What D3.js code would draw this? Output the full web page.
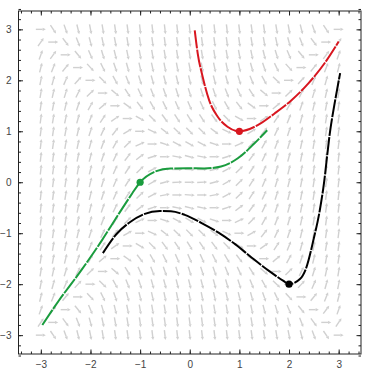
<!DOCTYPE html>
<html>
<head>
<meta charset="utf-8">
<script src="https://cdn.jsdelivr.net/npm/d3@7"></script>
<style>
  body { margin: 0; background: #fff; }
  svg { display: block; }
</style>
</head>
<body>
<svg></svg>
<script>
// Slope field dy/dx = x^2 - y^2 sampled on a grid
const slope = (x, y) => x * x - y * y;
const gridX = d3.range(-3, 3.001, 0.25);
const gridY = d3.range(-3, 3.001, 0.25);

// Solution curves
const redCurve = [[0.1, 2.98], [0.16, 2.53], [0.26, 2.07], [0.39, 1.61], [0.56, 1.29], [0.76, 1.09], [1, 1],
  [1.37, 1.12], [1.71, 1.35], [2.05, 1.61], [2.39, 1.94], [2.72, 2.34], [3.0, 2.76]];
const greenCurve = [[-2.97, -2.8], [-2.65, -2.34], [-2.18, -1.72], [-1.77, -1.14], [-1.43, -0.62], [-1.16, -0.22], [-1, 0],
  [-0.72, 0.2], [-0.39, 0.27], [-0.05, 0.275], [0.29, 0.27], [0.63, 0.31], [0.97, 0.47], [1.3, 0.76], [1.56, 1.02]];
const blackCurve = [[-1.75, -1.39], [-1.47, -1.01], [-1.2, -0.78], [-0.93, -0.63], [-0.6, -0.565], [-0.38, -0.57],
  [-0.1, -0.64], [0.24, -0.8], [0.58, -0.99], [0.92, -1.22], [1.25, -1.48], [1.61, -1.75], [1.88, -1.93], [2, -2],
  [2.22, -1.9], [2.35, -1.67], [2.49, -1.14], [2.62, -0.55], [2.69, -0.12], [2.83, 1.02], [2.93, 1.61], [3.03, 2.14]];

const curveColors = ['#d8161f', '#1a9c3e', '#000000'];
const initialPoints = [[1, 1], [-1, 0], [2, -2]];
const majorTicks = [-3, -2, -1, 0, 1, 2, 3];
const minorTicks = d3.range(-3.4, 3.401, 0.2);

const width = 369;
const height = 376;
const frame = { left: 18.5, right: 361, top: 11, bottom: 354 };

const svg = d3.select('svg').attr('width', width).attr('height', height);

const x = d3.scaleLinear().domain([-3.45, 3.45]).range([frame.left, frame.right]);
const y = d3.scaleLinear().domain([-3.37, 3.36]).range([frame.bottom, frame.top]);

// vector field arrows
const arrowLen = 10;
const head = 3.2;
const field = svg.append('g').attr('fill', '#d0d0d0').attr('stroke', '#d0d0d0').attr('stroke-width', 1.4);
gridX.forEach((gx) => {
  gridY.forEach((gy) => {
    const cx = x(gx), cy = y(gy);
    let dx = x(gx + 1) - x(gx);
    let dy = y(gy + slope(gx, gy)) - y(gy);
    const n = Math.hypot(dx, dy);
    dx /= n; dy /= n;
    const x0 = cx - dx * arrowLen / 2, y0 = cy - dy * arrowLen / 2;
    const x1 = cx + dx * arrowLen / 2, y1 = cy + dy * arrowLen / 2;
    const bx = x1 - dx * head, by = y1 - dy * head;
    field.append('line')
      .attr('x1', x0).attr('y1', y0).attr('x2', bx).attr('y2', by);
    field.append('path')
      .attr('stroke', 'none')
      .attr('d', `M${x1},${y1}L${bx - dy * head * 0.5},${by + dx * head * 0.5}L${bx + dy * head * 0.5},${by - dx * head * 0.5}Z`);
  });
});

// solution curves
const line = d3.line().x((d) => x(d[0])).y((d) => y(d[1])).curve(d3.curveMonotoneX);
[redCurve, greenCurve, blackCurve].forEach((c, i) => {
  svg.append('path')
    .datum(c)
    .attr('fill', 'none')
    .attr('stroke', curveColors[i])
    .attr('stroke-width', 2)
    .attr('stroke-dasharray', '18,1.2')
    .attr('d', line);
});

svg.selectAll('circle.start')
  .data(initialPoints)
  .join('circle')
  .attr('cx', (d) => x(d[0]))
  .attr('cy', (d) => y(d[1]))
  .attr('r', 3.6)
  .attr('fill', (d, i) => curveColors[i]);

// frame with inward ticks on all sides
const axisColor = '#222';
function frameAxis(axisFn, scale, translate, labels) {
  const minor = svg.append('g').attr('transform', translate)
    .call(axisFn(scale).tickValues(minorTicks).tickSize(-2.5).tickFormat(''));
  const major = svg.append('g').attr('transform', translate)
    .call(axisFn(scale).tickValues(majorTicks).tickSize(-4.5).tickPadding(7)
      .tickFormat(labels ? (d) => (d < 0 ? '\u2212' + Math.abs(d) : d) : ''));
  [minor, major].forEach((g) => {
    g.select('.domain').remove();
    g.selectAll('line').attr('stroke', axisColor);
    g.selectAll('text').attr('fill', '#444').style('font', '10px "Liberation Sans", Arial, sans-serif');
  });
  return major;
}

frameAxis(d3.axisBottom, x, `translate(0,${frame.bottom})`, true);
frameAxis(d3.axisTop, x, `translate(0,${frame.top})`, false);
frameAxis(d3.axisLeft, y, `translate(${frame.left},0)`, true);
frameAxis(d3.axisRight, y, `translate(${frame.right},0)`, false);

svg.append('rect')
  .attr('x', frame.left).attr('y', frame.top)
  .attr('width', frame.right - frame.left).attr('height', frame.bottom - frame.top)
  .attr('fill', 'none').attr('stroke', axisColor).attr('stroke-width', 1);
</script>
</body>
</html>
